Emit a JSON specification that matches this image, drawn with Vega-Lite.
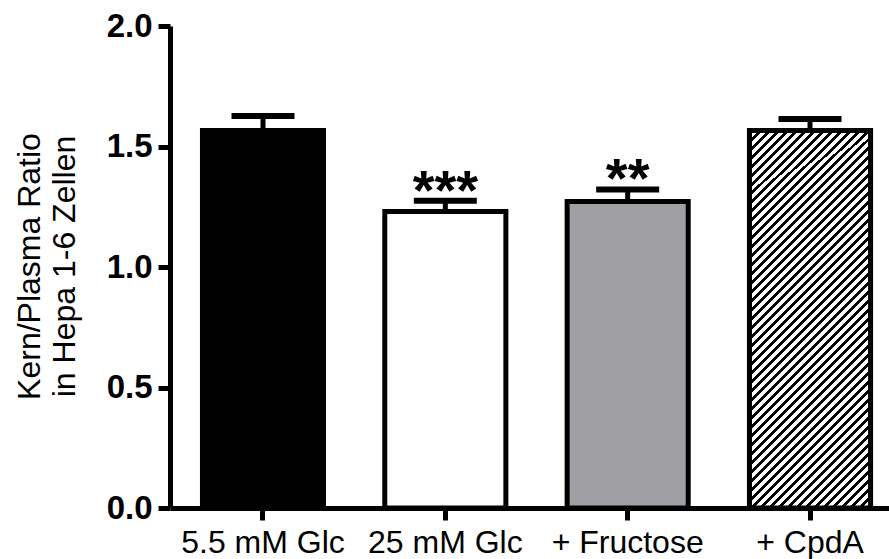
{
  "$schema": "https://vega.github.io/schema/vega-lite/v6.json",
  "width": 733,
  "height": 482,
  "autosize": {"type": "none"},
  "padding": {"left": 170, "top": 26, "right": 0, "bottom": 51},
  "background": "white",
  "config": {"view": {"stroke": null}, "font": "Liberation Sans"},
  "data": {
    "values": [
      {"condition": "5.5 mM Glc", "ratio": 1.566, "upper": 1.627, "sig": ""},
      {"condition": "25 mM Glc", "ratio": 1.23, "upper": 1.275, "sig": "***"},
      {"condition": "+ Fructose", "ratio": 1.272, "upper": 1.322, "sig": "**"},
      {"condition": "+ CpdA", "ratio": 1.566, "upper": 1.614, "sig": ""}
    ]
  },
  "encoding": {
    "x": {
      "field": "condition",
      "type": "nominal",
      "sort": null,
      "scale": {"type": "band", "paddingInner": 0.336, "paddingOuter": 0.178},
      "axis": {
        "title": null,
        "labelAngle": 0,
        "labelFont": "Liberation Sans",
        "labelFontSize": 32,
        "labelColor": "black",
        "labelPadding": 7,
        "domainColor": "black",
        "domainWidth": 5,
        "tickColor": "black",
        "tickWidth": 5,
        "tickSize": 12,
        "grid": false
      }
    }
  },
  "layer": [
    {
      "mark": {"type": "bar", "stroke": "black", "strokeWidth": 5, "strokeJoin": "miter"},
      "encoding": {
        "y": {
          "field": "ratio",
          "type": "quantitative",
          "scale": {"domain": [0, 2], "nice": false, "zero": true},
          "axis": {
            "values": [0, 0.5, 1, 1.5, 2],
            "format": ".1f",
            "grid": false,
            "labelFont": "Liberation Sans",
            "labelFontSize": 33,
            "labelFontWeight": "bold",
            "labelColor": "black",
            "labelPadding": 6,
            "domainColor": "black",
            "domainWidth": 5,
            "tickColor": "black",
            "tickWidth": 5,
            "tickSize": 12,
            "title": ["Kern/Plasma Ratio", "in Hepa 1-6 Zellen"],
            "titleFont": "Liberation Sans",
            "titleFontSize": 32,
            "titleFontWeight": "normal",
            "titleColor": "black",
            "titleLineHeight": 35,
            "titleAngle": -90,
            "titleAlign": "center",
            "titleBaseline": "middle",
            "titleX": -141,
            "titleY": 240
          }
        },
        "fill": {
          "field": "condition",
          "type": "nominal",
          "scale": {
            "domain": ["5.5 mM Glc", "25 mM Glc", "+ Fructose", "+ CpdA"],
            "range": ["#000000", "#ffffff", "#a0a0a4", "#ffffff"]
          },
          "legend": null
        }
      }
    },
    {
      "transform": [{"filter": "datum.condition === '+ CpdA'"}],
      "mark": {
        "type": "bar",
        "stroke": "black",
        "strokeWidth": 5,
        "strokeJoin": "miter",
        "fill": {
          "gradient": "linear",
          "x1": 0, "y1": 0, "x2": 0.3847, "y2": 1.2,
          "stops": [
            {"offset": 0, "color": "#000"}, {"offset": 0.008, "color": "#000"}, {"offset": 0.008, "color": "#fff"}, {"offset": 0.018, "color": "#fff"},
            {"offset": 0.018, "color": "#000"}, {"offset": 0.026, "color": "#000"}, {"offset": 0.026, "color": "#fff"}, {"offset": 0.036, "color": "#fff"},
            {"offset": 0.036, "color": "#000"}, {"offset": 0.044, "color": "#000"}, {"offset": 0.044, "color": "#fff"}, {"offset": 0.054, "color": "#fff"},
            {"offset": 0.054, "color": "#000"}, {"offset": 0.062, "color": "#000"}, {"offset": 0.062, "color": "#fff"}, {"offset": 0.072, "color": "#fff"},
            {"offset": 0.072, "color": "#000"}, {"offset": 0.08, "color": "#000"}, {"offset": 0.08, "color": "#fff"}, {"offset": 0.09, "color": "#fff"},
            {"offset": 0.09, "color": "#000"}, {"offset": 0.098, "color": "#000"}, {"offset": 0.098, "color": "#fff"}, {"offset": 0.108, "color": "#fff"},
            {"offset": 0.108, "color": "#000"}, {"offset": 0.116, "color": "#000"}, {"offset": 0.116, "color": "#fff"}, {"offset": 0.126, "color": "#fff"},
            {"offset": 0.126, "color": "#000"}, {"offset": 0.134, "color": "#000"}, {"offset": 0.134, "color": "#fff"}, {"offset": 0.144, "color": "#fff"},
            {"offset": 0.144, "color": "#000"}, {"offset": 0.152, "color": "#000"}, {"offset": 0.152, "color": "#fff"}, {"offset": 0.162, "color": "#fff"},
            {"offset": 0.162, "color": "#000"}, {"offset": 0.17, "color": "#000"}, {"offset": 0.17, "color": "#fff"}, {"offset": 0.18, "color": "#fff"},
            {"offset": 0.18, "color": "#000"}, {"offset": 0.188, "color": "#000"}, {"offset": 0.188, "color": "#fff"}, {"offset": 0.198, "color": "#fff"},
            {"offset": 0.198, "color": "#000"}, {"offset": 0.206, "color": "#000"}, {"offset": 0.206, "color": "#fff"}, {"offset": 0.216, "color": "#fff"},
            {"offset": 0.216, "color": "#000"}, {"offset": 0.224, "color": "#000"}, {"offset": 0.224, "color": "#fff"}, {"offset": 0.234, "color": "#fff"},
            {"offset": 0.234, "color": "#000"}, {"offset": 0.242, "color": "#000"}, {"offset": 0.242, "color": "#fff"}, {"offset": 0.252, "color": "#fff"},
            {"offset": 0.252, "color": "#000"}, {"offset": 0.26, "color": "#000"}, {"offset": 0.26, "color": "#fff"}, {"offset": 0.27, "color": "#fff"},
            {"offset": 0.27, "color": "#000"}, {"offset": 0.278, "color": "#000"}, {"offset": 0.278, "color": "#fff"}, {"offset": 0.288, "color": "#fff"},
            {"offset": 0.288, "color": "#000"}, {"offset": 0.296, "color": "#000"}, {"offset": 0.296, "color": "#fff"}, {"offset": 0.306, "color": "#fff"},
            {"offset": 0.306, "color": "#000"}, {"offset": 0.314, "color": "#000"}, {"offset": 0.314, "color": "#fff"}, {"offset": 0.324, "color": "#fff"},
            {"offset": 0.324, "color": "#000"}, {"offset": 0.332, "color": "#000"}, {"offset": 0.332, "color": "#fff"}, {"offset": 0.342, "color": "#fff"},
            {"offset": 0.342, "color": "#000"}, {"offset": 0.35, "color": "#000"}, {"offset": 0.35, "color": "#fff"}, {"offset": 0.36, "color": "#fff"},
            {"offset": 0.36, "color": "#000"}, {"offset": 0.368, "color": "#000"}, {"offset": 0.368, "color": "#fff"}, {"offset": 0.378, "color": "#fff"},
            {"offset": 0.378, "color": "#000"}, {"offset": 0.386, "color": "#000"}, {"offset": 0.386, "color": "#fff"}, {"offset": 0.396, "color": "#fff"},
            {"offset": 0.396, "color": "#000"}, {"offset": 0.404, "color": "#000"}, {"offset": 0.404, "color": "#fff"}, {"offset": 0.414, "color": "#fff"},
            {"offset": 0.414, "color": "#000"}, {"offset": 0.422, "color": "#000"}, {"offset": 0.422, "color": "#fff"}, {"offset": 0.432, "color": "#fff"},
            {"offset": 0.432, "color": "#000"}, {"offset": 0.44, "color": "#000"}, {"offset": 0.44, "color": "#fff"}, {"offset": 0.45, "color": "#fff"},
            {"offset": 0.45, "color": "#000"}, {"offset": 0.458, "color": "#000"}, {"offset": 0.458, "color": "#fff"}, {"offset": 0.468, "color": "#fff"},
            {"offset": 0.468, "color": "#000"}, {"offset": 0.476, "color": "#000"}, {"offset": 0.476, "color": "#fff"}, {"offset": 0.486, "color": "#fff"},
            {"offset": 0.486, "color": "#000"}, {"offset": 0.494, "color": "#000"}, {"offset": 0.494, "color": "#fff"}, {"offset": 0.504, "color": "#fff"},
            {"offset": 0.504, "color": "#000"}, {"offset": 0.512, "color": "#000"}, {"offset": 0.512, "color": "#fff"}, {"offset": 0.522, "color": "#fff"},
            {"offset": 0.522, "color": "#000"}, {"offset": 0.53, "color": "#000"}, {"offset": 0.53, "color": "#fff"}, {"offset": 0.54, "color": "#fff"},
            {"offset": 0.54, "color": "#000"}, {"offset": 0.548, "color": "#000"}, {"offset": 0.548, "color": "#fff"}, {"offset": 0.558, "color": "#fff"},
            {"offset": 0.558, "color": "#000"}, {"offset": 0.566, "color": "#000"}, {"offset": 0.566, "color": "#fff"}, {"offset": 0.576, "color": "#fff"},
            {"offset": 0.576, "color": "#000"}, {"offset": 0.584, "color": "#000"}, {"offset": 0.584, "color": "#fff"}, {"offset": 0.594, "color": "#fff"},
            {"offset": 0.594, "color": "#000"}, {"offset": 0.602, "color": "#000"}, {"offset": 0.602, "color": "#fff"}, {"offset": 0.612, "color": "#fff"},
            {"offset": 0.612, "color": "#000"}, {"offset": 0.62, "color": "#000"}, {"offset": 0.62, "color": "#fff"}, {"offset": 0.63, "color": "#fff"},
            {"offset": 0.63, "color": "#000"}, {"offset": 0.638, "color": "#000"}, {"offset": 0.638, "color": "#fff"}, {"offset": 0.648, "color": "#fff"},
            {"offset": 0.648, "color": "#000"}, {"offset": 0.656, "color": "#000"}, {"offset": 0.656, "color": "#fff"}, {"offset": 0.666, "color": "#fff"},
            {"offset": 0.666, "color": "#000"}, {"offset": 0.674, "color": "#000"}, {"offset": 0.674, "color": "#fff"}, {"offset": 0.684, "color": "#fff"},
            {"offset": 0.684, "color": "#000"}, {"offset": 0.692, "color": "#000"}, {"offset": 0.692, "color": "#fff"}, {"offset": 0.702, "color": "#fff"},
            {"offset": 0.702, "color": "#000"}, {"offset": 0.71, "color": "#000"}, {"offset": 0.71, "color": "#fff"}, {"offset": 0.72, "color": "#fff"},
            {"offset": 0.72, "color": "#000"}, {"offset": 0.728, "color": "#000"}, {"offset": 0.728, "color": "#fff"}, {"offset": 0.738, "color": "#fff"},
            {"offset": 0.738, "color": "#000"}, {"offset": 0.746, "color": "#000"}, {"offset": 0.746, "color": "#fff"}, {"offset": 0.756, "color": "#fff"},
            {"offset": 0.756, "color": "#000"}, {"offset": 0.764, "color": "#000"}, {"offset": 0.764, "color": "#fff"}, {"offset": 0.774, "color": "#fff"},
            {"offset": 0.774, "color": "#000"}, {"offset": 0.782, "color": "#000"}, {"offset": 0.782, "color": "#fff"}, {"offset": 0.792, "color": "#fff"},
            {"offset": 0.792, "color": "#000"}, {"offset": 0.8, "color": "#000"}, {"offset": 0.8, "color": "#fff"}, {"offset": 0.81, "color": "#fff"},
            {"offset": 0.81, "color": "#000"}, {"offset": 0.818, "color": "#000"}, {"offset": 0.818, "color": "#fff"}, {"offset": 0.828, "color": "#fff"},
            {"offset": 0.828, "color": "#000"}, {"offset": 0.836, "color": "#000"}, {"offset": 0.836, "color": "#fff"}, {"offset": 0.846, "color": "#fff"},
            {"offset": 0.846, "color": "#000"}, {"offset": 0.854, "color": "#000"}, {"offset": 0.854, "color": "#fff"}, {"offset": 0.864, "color": "#fff"},
            {"offset": 0.864, "color": "#000"}, {"offset": 0.872, "color": "#000"}, {"offset": 0.872, "color": "#fff"}, {"offset": 0.882, "color": "#fff"},
            {"offset": 0.882, "color": "#000"}, {"offset": 0.89, "color": "#000"}, {"offset": 0.89, "color": "#fff"}, {"offset": 0.9, "color": "#fff"},
            {"offset": 0.9, "color": "#000"}, {"offset": 0.908, "color": "#000"}, {"offset": 0.908, "color": "#fff"}, {"offset": 0.918, "color": "#fff"},
            {"offset": 0.918, "color": "#000"}, {"offset": 0.926, "color": "#000"}, {"offset": 0.926, "color": "#fff"}, {"offset": 0.936, "color": "#fff"},
            {"offset": 0.936, "color": "#000"}, {"offset": 0.944, "color": "#000"}, {"offset": 0.944, "color": "#fff"}, {"offset": 0.954, "color": "#fff"},
            {"offset": 0.954, "color": "#000"}, {"offset": 0.962, "color": "#000"}, {"offset": 0.962, "color": "#fff"}, {"offset": 0.972, "color": "#fff"},
            {"offset": 0.972, "color": "#000"}, {"offset": 0.98, "color": "#000"}, {"offset": 0.98, "color": "#fff"}, {"offset": 0.99, "color": "#fff"},
            {"offset": 0.99, "color": "#000"}, {"offset": 0.998, "color": "#000"}, {"offset": 0.998, "color": "#fff"}, {"offset": 1, "color": "#fff"}
          ]
        }
      },
      "encoding": {
        "y": {"field": "ratio", "type": "quantitative"}
      }
    },
    {
      "mark": {"type": "rule", "color": "black", "strokeWidth": 5},
      "encoding": {
        "y": {"field": "ratio", "type": "quantitative"},
        "y2": {"field": "upper"}
      }
    },
    {
      "mark": {"type": "tick", "color": "black", "size": 63, "thickness": 6, "opacity": 1},
      "encoding": {
        "y": {"field": "upper", "type": "quantitative"}
      }
    },
    {
      "mark": {
        "type": "text",
        "font": "Liberation Sans",
        "fontSize": 56,
        "fontWeight": "bold",
        "color": "black",
        "align": "center",
        "baseline": "alphabetic",
        "dy": 8
      },
      "encoding": {
        "y": {"field": "upper", "type": "quantitative"},
        "text": {"field": "sig"}
      }
    }
  ]
}
